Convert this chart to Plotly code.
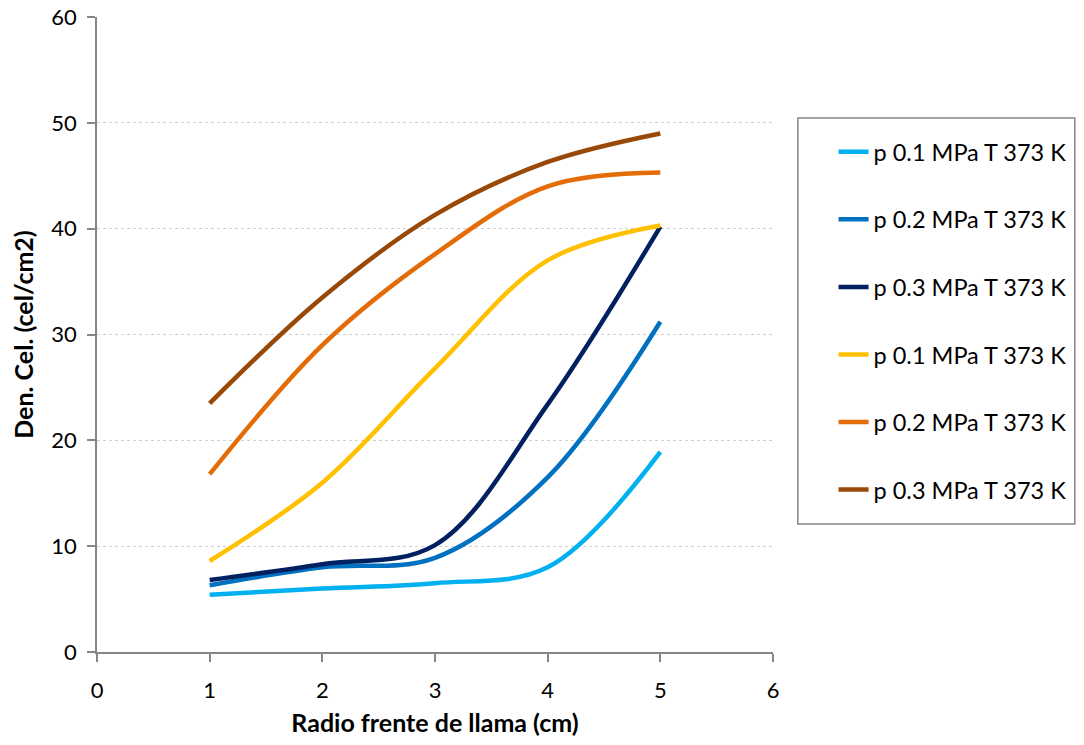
import plotly.graph_objects as go

x_vals = [1, 2, 3, 4, 5]
names = ["p 0.1 MPa T 373 K", "p 0.2 MPa T 373 K", "p 0.3 MPa T 373 K",
         "p 0.1 MPa T 373 K", "p 0.2 MPa T 373 K", "p 0.3 MPa T 373 K"]
s1 = [5.4, 6.0, 6.5, 8.0, 18.9]
s2 = [6.3, 8.0, 8.9, 16.5, 31.2]
s3 = [6.8, 8.3, 10.1, 23.4, 40.2]
s4 = [8.6, 16.0, 26.8, 37.0, 40.3]
s5 = [16.8, 29.0, 37.6, 44.0, 45.3]
s6 = [23.5, 33.5, 41.3, 46.3, 49.0]
series = [s1, s2, s3, s4, s5, s6]
colors = ["#00B0F0", "#0070C0", "#002060", "#FFC000", "#E36C09", "#984807"]

FONT = "Lato"
# figure placed at (8, 0) on the page (body left margin kept, top margin removed)
OX, OY = 8, 0
W, H = 1076, 737
L, R, T, B = 89, 306, 17, 85
PW, PH = W - L - R, H - T - B

def px(xs):
    return (xs - OX - L) / PW

def py(ys):
    return (H - B - (ys - OY)) / PH

fig = go.Figure()
for i, (nm, ys, c) in enumerate(zip(names, series, colors)):
    fig.add_trace(go.Scatter(
        x=x_vals, y=ys, name=nm, mode="lines",
        line=dict(color=c, width=4.5, shape="spline", smoothing=1),
        legendgroup=f"g{i}",
    ))

axis_common = dict(
    showline=True, linecolor="#868686", linewidth=1.5,
    ticks="outside", ticklen=8, tickcolor="#868686", tickwidth=1.5,
    tickfont=dict(family=FONT, size=22, color="#000000"),
    zeroline=False, mirror=False, automargin=False,
)
fig.update_layout(
    width=W, height=H,
    paper_bgcolor="white", plot_bgcolor="white",
    margin=dict(l=L, r=R, t=T, b=B),
    font=dict(family=FONT, color="#000000"),
    xaxis=dict(range=[0, 6], dtick=1, showgrid=False, ticklabelstandoff=10,
               title=dict(text="<b>Radio frente de llama (cm)</b>",
                          font=dict(family=FONT, size=25), standoff=15),
               **axis_common),
    yaxis=dict(range=[0, 60], dtick=10, showgrid=True, ticklabelstandoff=6,
               gridcolor="#D0D0D0", griddash="dot", gridwidth=1.2,
               title=dict(text="<b>Den. Cel. (cel/cm2)</b>",
                          font=dict(family=FONT, size=25), standoff=14),
               **axis_common),
    legend=dict(
        x=px(839), y=py(130), xanchor="left", yanchor="top",
        borderwidth=0, bgcolor="rgba(0,0,0,0)",
        font=dict(family=FONT, size=23.5, color="#000000"),
        traceorder="grouped", tracegroupgap=34,
        itemwidth=30,
    ),
    shapes=[dict(type="rect", xref="paper", yref="paper",
                 x0=px(803), x1=px(1082), y0=py(524), y1=py(118),
                 line=dict(color="#868686", width=1.5), fillcolor="rgba(0,0,0,0)",
                 layer="below")],
    showlegend=True,
)
fig.write_html("out.html", config={"displayModeBar": False},
               post_script="document.body.style.marginTop='0';")
